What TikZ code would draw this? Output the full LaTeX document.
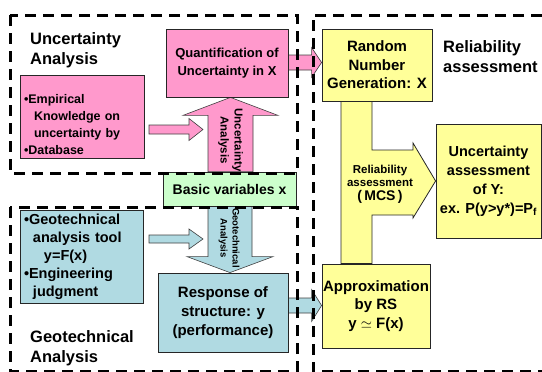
\documentclass[tikz,border=0pt]{standalone}
\usepackage{fontspec}
\setmainfont{Liberation Sans}
\usetikzlibrary{calc}
\usetikzlibrary{backgrounds}
\definecolor{pinkfill}{RGB}{255,153,204}
\definecolor{greenfill}{RGB}{204,255,204}
\definecolor{bluefill}{RGB}{176,218,226}
\definecolor{yellowfill}{RGB}{255,255,153}
\tikzset{
    box/.style = {draw=black!85,line width=0.8pt,inner sep=3pt,align=center},
    pinkbox/.style = {box,fill=pinkfill},
    greenbox/.style = {box,fill=greenfill},
    bluebox/.style = {box,fill=bluefill},
    yellowbox/.style = {box,fill=yellowfill},
    frame/.style = {line width=3pt,dash pattern=on 11pt off 7pt},
    title/.style = {anchor=north west,inner sep=0,align=left,font=\bfseries\fontsize{16.5}{20}\selectfont},
    vlabel/.style = {rotate=-90,align=center,inner sep=0}
}
\tikzset{
    % block arrows between two points, args: shaft half width/head half width/head length
    varrow/.style n args={3}{to path={let \p1=(\tikztostart), \p2=(\tikztotarget),
        \n1={ifthenelse(\y2>\y1,1,-1)} in
        (\x1-#1,\y1) -- (\x1-#1,\y2-\n1*#3) -- (\x1-#2,\y2-\n1*#3) -- (\x2,\y2)
        -- (\x1+#2,\y2-\n1*#3) -- (\x1+#1,\y2-\n1*#3) -- (\x1+#1,\y1) -- cycle}},
    harrow/.style n args={3}{to path={let \p1=(\tikztostart), \p2=(\tikztotarget),
        \n1={ifthenelse(\x2>\x1,1,-1)} in
        (\x1,\y1-#1) -- (\x2-\n1*#3,\y1-#1) -- (\x2-\n1*#3,\y1-#2) -- (\x2,\y2)
        -- (\x2-\n1*#3,\y1+#2) -- (\x2-\n1*#3,\y1+#1) -- (\x1,\y1+#1) -- cycle}},
    pinkarrow/.style = {fill=pinkfill,draw=black!75,line width=0.6pt},
    bluearrow/.style = {fill=bluefill,draw=black!75,line width=0.6pt},
    yellowband/.style = {fill=yellowfill,draw=black!85,line width=0.8pt}
}
\begin{document}
\begin{tikzpicture}[x=1pt,y=-1pt]
    \useasboundingbox (0,0) rectangle (542,372);
    % Uncertainty analysis
    \node[pinkbox,minimum width=122pt,minimum height=68pt,font=\bfseries\fontsize{13}{18}\selectfont]
        (quant) at (227,63) {Quantification of\\Uncertainty in X};
    \node[pinkbox,text width=116pt,inner xsep=4pt,minimum height=83pt,align=left,
        font=\bfseries\fontsize{12.5}{17}\selectfont]
        (emp) at (82,116.5) {\rule{0pt}{26pt}\textbullet Empirical\\
        \hspace*{10pt}Knowledge on\\\hspace*{10pt}uncertainty by\\\textbullet Database};
    \node[greenbox,minimum width=133pt,minimum height=34pt,font=\bfseries\fontsize{14}{17}\selectfont]
        (basic) at (229.5,189) {Basic variables x};
    % Geotechnical analysis
    \node[bluebox,text width=115pt,inner xsep=4pt,minimum height=93pt,align=left,
        font=\bfseries\fontsize{14.5}{18}\selectfont]
        (geo) at (81.5,256.5) {\textbullet Geotechnical\\\hspace*{9pt}analysis tool\\
        \hspace*{20pt}y=F(x)\\\textbullet Engineering\\\hspace*{9pt}judgment};
    \node[bluebox,minimum width=130pt,minimum height=79pt,font=\bfseries\fontsize{15}{19}\selectfont]
        (resp) at (223,312.5) {Response of\\structure: y\\(performance)};
    % Reliability assessment
    \node[yellowbox,minimum width=110pt,minimum height=72pt,font=\bfseries\fontsize{15}{18.5}\selectfont]
        (rand) at (377,65) {Random\\Number\\Generation: X};
    \node[yellowbox,minimum width=105pt,minimum height=114pt,inner sep=1pt,font=\bfseries\fontsize{14.5}{19}\selectfont]
        (uncy) at (488.5,181) {Uncertainty\\assessment\\of Y:\\ex. P(y>y*)=P\textsubscript{f}};
    \node[yellowbox,minimum width=108pt,minimum height=84pt,inner sep=1pt,font=\bfseries\fontsize{15}{18.5}\selectfont]
        (approx) at (376,306) {Approximation\\by RS\\y $\simeq$ F(x)};
    % Arrow positions
    \coordinate (uax) at (230.5,0);
    \coordinate (dax) at (230,0);
    \coordinate (qay) at (0,62.5);
    \coordinate (ray) at (0,305.5);
    \coordinate (bandl) at (341,0);
    \coordinate (bandr) at (372,0);
    \coordinate (pinka) at (149,129.5);
    \coordinate (pinkb) at (203,129.5);
    \coordinate (bluea) at (149,239);
    \coordinate (blueb) at (203,239);
    \begin{scope}[on background layer]
        \draw[pinkarrow,varrow={22.5pt}{47.5pt}{18pt}] (uax |- basic.north) to (uax |- quant.south);
        \draw[bluearrow,varrow={22pt}{43pt}{16pt}] (dax |- basic.south) to (dax |- resp.north);
        \draw[pinkarrow,harrow={7.5pt}{15pt}{10pt}] (quant.east |- qay) to (rand.west |- qay);
        \draw[bluearrow,harrow={7.5pt}{16pt}{10pt}] (resp.east |- ray) to (approx.west |- ray);
        \draw[pinkarrow,harrow={4.5pt}{11pt}{14pt}] (pinka) to (pinkb);
        \draw[bluearrow,harrow={4pt}{10pt}{14pt}] (bluea) to (blueb);
        \draw[yellowband] (bandl |- rand.south) -- (bandl |- approx.north) -- (bandr |- approx.north)
            -- (372,215) -- (413,215) -- (413,218) -- (uncy.west) -- (413,143) -- (413,150)
            -- (372,150) -- (bandr |- rand.south) -- cycle;
    \end{scope}
    % Arrow labels
    \node[vlabel,font=\bfseries\fontsize{11.5}{14}\selectfont] (ualabel) at (230.5,140) {Uncertainty\\Analysis};
    \node[vlabel,font=\bfseries\fontsize{9.5}{12}\selectfont] (galabel) at (229,238) {Geotechnical\\Analysis};
    \node[align=center,inner sep=0,font=\bfseries\fontsize{11.5}{13}\selectfont] (mcs) at (380,184)
        {Reliability\\assessment\\[1pt]{\fontsize{14}{16}\selectfont(\,MCS\,)}};
    % Frames
    \draw[frame] (10,15) rectangle (297,173);
    \draw[frame] (10,207) rectangle (297,371);
    \draw[frame] (542,15) -- (313,15) -- (313,371) -- (542,371);
    % Titles
    \node[title] (uatitle) at (30,32) {Uncertainty\\Analysis};
    \node[title] (gatitle) at (30,330) {Geotechnical\\Analysis};
    \node[title] (ratitle) at (443,40) {Reliability\\assessment};
\end{tikzpicture}
\end{document}
